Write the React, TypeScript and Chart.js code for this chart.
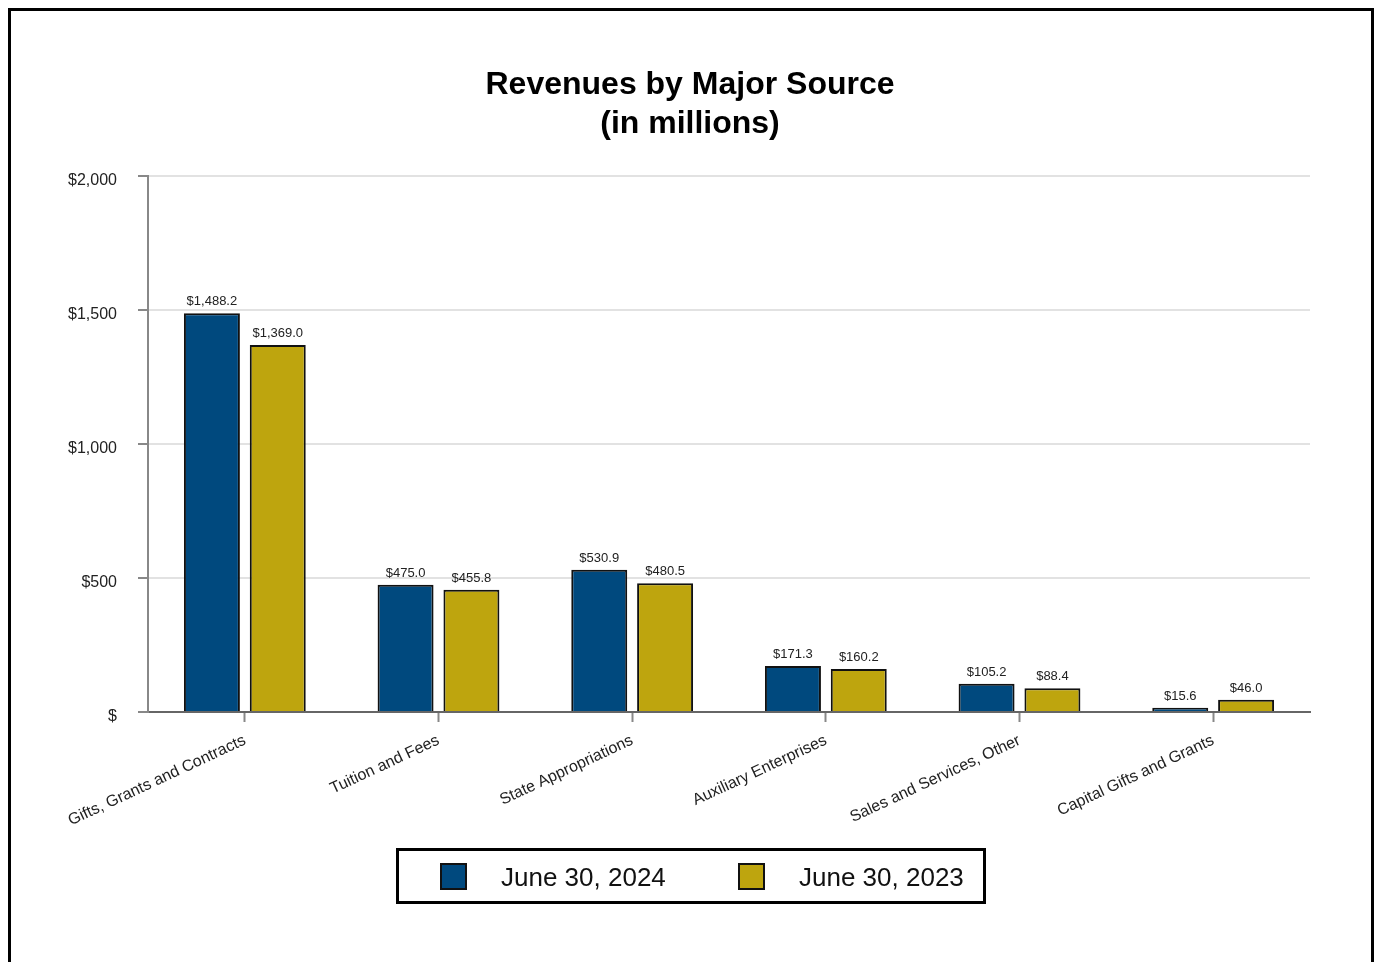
import React, { useEffect, useRef } from "react";
import { Chart, registerables } from "chart.js";

Chart.register(...registerables);

const categories = [
  "Gifts, Grants and Contracts",
  "Tuition and Fees",
  "State Appropriations",
  "Auxiliary Enterprises",
  "Sales and Services, Other",
  "Capital Gifts and Grants",
];
const values2024 = [1488.2, 475.0, 530.9, 171.3, 105.2, 15.6];
const values2023 = [1369.0, 455.8, 480.5, 160.2, 88.4, 46.0];
const seriesLabels = ["June 30, 2024", "June 30, 2023"];
const seriesColors = ["#00497E", "#BEA50E"];
const titleLines = ["Revenues by Major Source", "(in millions)"];
const yMin = 0;
const yMax = 2000;
const yStep = 500;

const FONT = "'Liberation Sans', Arial, Helvetica, sans-serif";

const fmtValue = (v: number) =>
  "$" + v.toLocaleString("en-US", { minimumFractionDigits: 1, maximumFractionDigits: 1 });
const fmtTick = (v: number) => (v === 0 ? "$" : "$" + v.toLocaleString("en-US"));

const titlePlugin = {
  id: "customTitle",
  afterDraw(chart: any) {
    const ctx = chart.ctx;
    ctx.save();
    ctx.fillStyle = "#000";
    ctx.font = `bold 32px ${FONT}`;
    ctx.textAlign = "center";
    ctx.textBaseline = "middle";
    titleLines.forEach((line, i) => ctx.fillText(line, chart.width / 2 - 1, 74 + i * 39));
    ctx.restore();
  },
};

const valueLabelPlugin = {
  id: "valueLabels",
  afterDatasetsDraw(chart: any) {
    const ctx = chart.ctx;
    ctx.save();
    ctx.fillStyle = "#222";
    ctx.font = `13px ${FONT}`;
    ctx.textAlign = "center";
    ctx.textBaseline = "alphabetic";
    chart.data.datasets.forEach((ds: any, di: number) => {
      const meta = chart.getDatasetMeta(di);
      meta.data.forEach((el: any, i: number) => {
        ctx.fillText(fmtValue(ds.data[i]), el.x, el.y - 8);
      });
    });
    ctx.restore();
  },
};

const legendPlugin = {
  id: "boxedLegend",
  afterDraw(chart: any) {
    const ctx = chart.ctx;
    const boxW = 590;
    const boxH = 56;
    const left = Math.round(chart.width / 2 - boxW / 2);
    const top = 837;
    ctx.save();
    ctx.strokeStyle = "#000";
    ctx.lineWidth = 3;
    ctx.strokeRect(left + 1.5, top + 1.5, boxW - 3, boxH - 3);
    const itemOffsets = [44, 342];
    ctx.font = `26px ${FONT}`;
    ctx.textAlign = "left";
    ctx.textBaseline = "middle";
    chart.data.datasets.forEach((ds: any, i: number) => {
      const sx = left + itemOffsets[i];
      const sy = top + 15;
      ctx.fillStyle = ds.backgroundColor;
      ctx.fillRect(sx, sy, 27, 27);
      ctx.lineWidth = 2;
      ctx.strokeStyle = "#111";
      ctx.strokeRect(sx + 1, sy + 1, 25, 25);
      ctx.fillStyle = "#111";
      ctx.fillText(ds.label, sx + 61, top + 30.5);
    });
    ctx.restore();
  },
};

export default function App() {
  const ref = useRef<HTMLCanvasElement>(null);

  useEffect(() => {
    if (!ref.current) return;
    Chart.defaults.font.family = FONT;
    const chart = new Chart(ref.current, {
      type: "bar",
      data: {
        labels: categories,
        datasets: [
          {
            label: seriesLabels[0],
            data: values2024,
            backgroundColor: seriesColors[0],
            borderColor: "#111",
            borderWidth: 2,
            categoryPercentage: 0.68,
            barPercentage: 0.85,
          },
          {
            label: seriesLabels[1],
            data: values2023,
            backgroundColor: seriesColors[1],
            borderColor: "#111",
            borderWidth: 2,
            categoryPercentage: 0.68,
            barPercentage: 0.85,
          },
        ],
      },
      options: {
        responsive: false,
        animation: false,
        devicePixelRatio: 1,
        layout: { padding: { top: 165, right: 61, bottom: 120, left: 0 } },
        plugins: {
          legend: { display: false },
          title: { display: false },
          tooltip: { enabled: false },
        },
        scales: {
          x: {
            grid: {
              display: true,
              drawOnChartArea: false,
              drawTicks: true,
              tickLength: 10,
              tickColor: "#888",
              tickWidth: 2,
              offset: false,
              color: "#888",
            },
            border: { display: true, color: "#666", width: 2 },
            ticks: {
              autoSkip: false,
              minRotation: 25,
              maxRotation: 25,
              color: "#222",
              font: { size: 16 },
              padding: 9,
            },
            afterFit: (s: any) => {
              s.height = 130;
            },
          },
          y: {
            min: yMin,
            max: yMax,
            ticks: {
              stepSize: yStep,
              callback: (v: any) => fmtTick(Number(v)),
              color: "#222",
              font: { size: 16 },
              padding: 21,
              labelOffset: 5,
            },
            grid: {
              color: "#e2e2e2",
              lineWidth: 2,
              tickColor: "#888",
              tickLength: 10,
              tickWidth: 2,
            },
            border: { display: true, color: "#888", width: 2 },
            afterFit: (s: any) => {
              s.width = 137;
            },
          },
        },
      },
      plugins: [titlePlugin, valueLabelPlugin, legendPlugin],
    } as any);
    return () => chart.destroy();
  }, []);

  return (
    <>
      <style>{"html,body{overflow:hidden;}"}</style>
      <div
        style={{
          position: "absolute",
          left: 8,
          top: 8,
          width: 1366,
          height: 1000,
          border: "3px solid #000",
          boxSizing: "border-box",
          background: "#fff",
        }}
      >
        <canvas
          ref={ref}
          width={1360}
          height={951}
          style={{ display: "block", width: 1360, height: 951 }}
        />
      </div>
    </>
  );
}
